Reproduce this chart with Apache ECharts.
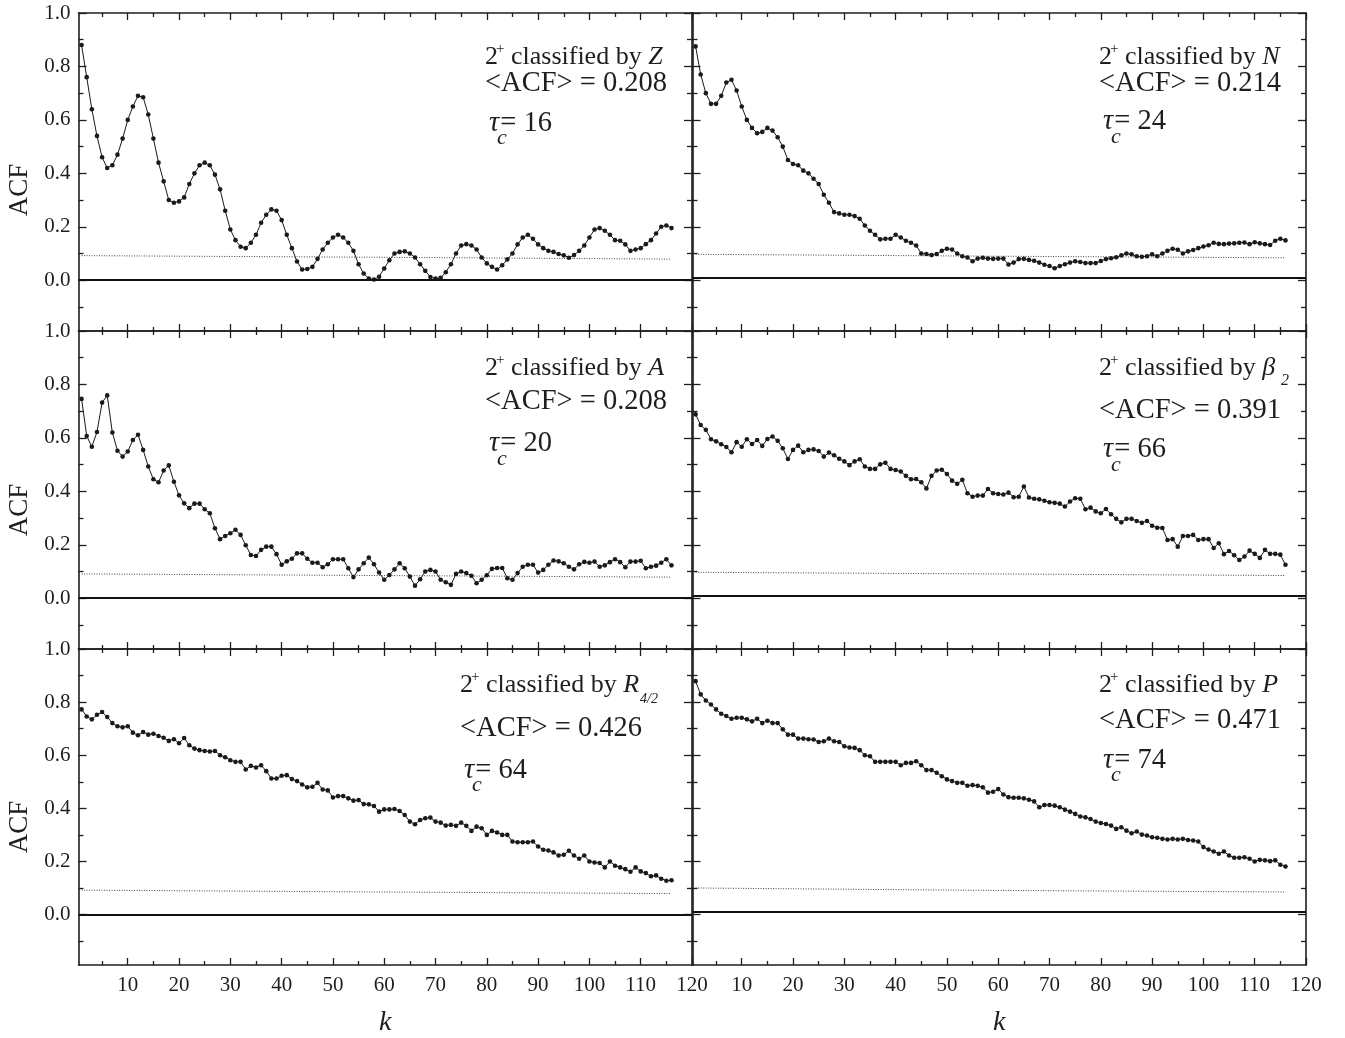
<!DOCTYPE html>
<html><head><meta charset="utf-8">
<script src="https://cdn.jsdelivr.net/npm/echarts@6/dist/echarts.min.js"></script>
<style>html,body{margin:0;padding:0;background:#fff}#c{width:1345px;height:1038px}</style>
</head><body><div id="c"></div>
<script>
// ---------- data ----------
const lags = Array.from({length:116},(_,i)=>i+1);
const acfZ = [0.88,0.76,0.64,0.54,0.46,0.42,0.43,0.47,0.53,0.60,
0.65,0.69,0.685,0.62,0.53,0.44,0.37,0.30,0.29,0.295,
0.31,0.36,0.40,0.43,0.44,0.43,0.395,0.34,0.26,0.19,
0.15,0.125,0.12,0.14,0.17,0.215,0.245,0.265,0.26,0.225,
0.17,0.12,0.07,0.04,0.042,0.05,0.08,0.115,0.14,0.16,
0.17,0.16,0.14,0.11,0.06,0.025,0.006,0.003,0.013,0.044,
0.075,0.10,0.106,0.108,0.10,0.085,0.06,0.035,0.012,0.006,
0.009,0.03,0.06,0.10,0.13,0.135,0.13,0.115,0.085,0.063,
0.05,0.04,0.056,0.078,0.10,0.134,0.16,0.17,0.155,0.134,
0.12,0.11,0.106,0.098,0.093,0.084,0.094,0.11,0.13,0.16,
0.19,0.195,0.185,0.17,0.15,0.148,0.134,0.11,0.115,0.12,
0.135,0.15,0.175,0.2,0.205,0.195];
const acfN = [0.875,0.77,0.70,0.66,0.66,0.69,0.74,0.75,0.71,0.65,
0.60,0.57,0.55,0.555,0.57,0.56,0.535,0.50,0.45,0.435,
0.43,0.41,0.40,0.38,0.36,0.32,0.29,0.255,0.25,0.245,
0.245,0.24,0.23,0.205,0.185,0.17,0.153,0.155,0.155,0.17,
0.16,0.148,0.14,0.13,0.10,0.098,0.094,0.098,0.11,0.118,
0.115,0.10,0.09,0.085,0.071,0.081,0.084,0.081,0.08,0.081,
0.081,0.059,0.066,0.079,0.080,0.076,0.073,0.066,0.058,0.053,
0.045,0.053,0.06,0.066,0.071,0.068,0.064,0.064,0.064,0.072,
0.079,0.082,0.086,0.093,0.10,0.097,0.09,0.088,0.09,0.097,
0.09,0.10,0.11,0.118,0.114,0.10,0.108,0.113,0.12,0.126,
0.131,0.14,0.136,0.135,0.137,0.138,0.14,0.141,0.135,0.142,
0.138,0.135,0.132,0.148,0.155,0.149];
const acfA = [0.746,0.607,0.567,0.622,0.732,0.759,0.62,0.552,0.53,0.549,
0.592,0.612,0.555,0.493,0.445,0.434,0.478,0.497,0.436,0.385,
0.355,0.337,0.354,0.354,0.333,0.318,0.262,0.221,0.233,0.243,
0.256,0.237,0.198,0.162,0.158,0.181,0.193,0.193,0.165,0.125,
0.138,0.148,0.168,0.168,0.148,0.133,0.133,0.116,0.127,0.146,
0.146,0.146,0.112,0.079,0.108,0.131,0.152,0.127,0.096,0.069,
0.087,0.108,0.131,0.112,0.081,0.047,0.071,0.10,0.106,0.10,
0.069,0.06,0.05,0.091,0.10,0.094,0.084,0.056,0.069,0.086,
0.11,0.113,0.113,0.075,0.069,0.094,0.118,0.125,0.125,0.096,
0.106,0.125,0.141,0.138,0.131,0.118,0.108,0.127,0.136,0.133,
0.137,0.118,0.123,0.135,0.146,0.135,0.116,0.137,0.137,0.14,
0.112,0.118,0.122,0.133,0.146,0.123];
const acfBeta = [0.688,0.648,0.63,0.595,0.587,0.576,0.566,0.546,0.584,0.567,
0.595,0.577,0.592,0.57,0.596,0.605,0.589,0.561,0.521,0.555,
0.571,0.546,0.555,0.557,0.551,0.53,0.545,0.535,0.522,0.512,
0.498,0.512,0.52,0.493,0.484,0.484,0.501,0.507,0.484,0.48,
0.474,0.458,0.445,0.446,0.434,0.411,0.458,0.478,0.481,0.465,
0.44,0.428,0.443,0.393,0.38,0.384,0.384,0.409,0.393,0.39,
0.388,0.395,0.378,0.38,0.418,0.377,0.372,0.37,0.365,0.359,
0.357,0.354,0.343,0.362,0.374,0.372,0.333,0.339,0.325,0.318,
0.334,0.314,0.297,0.284,0.297,0.297,0.289,0.282,0.289,0.271,
0.264,0.263,0.218,0.221,0.193,0.233,0.233,0.237,0.218,0.221,
0.221,0.188,0.206,0.165,0.177,0.161,0.143,0.156,0.178,0.166,
0.151,0.181,0.166,0.166,0.163,0.125];
const acfR = [0.7725,0.746,0.735,0.7525,0.7625,0.744,0.721,0.709,0.705,0.709,
0.685,0.675,0.6875,0.6775,0.681,0.6725,0.666,0.654,0.66,0.645,
0.665,0.6375,0.625,0.619,0.616,0.614,0.616,0.60,0.5925,0.581,
0.575,0.575,0.546,0.56,0.554,0.5625,0.54,0.5125,0.5125,0.5225,
0.525,0.51,0.5025,0.49,0.479,0.481,0.496,0.471,0.4675,0.441,
0.446,0.446,0.4375,0.429,0.431,0.416,0.415,0.409,0.3875,0.396,
0.396,0.3975,0.39,0.375,0.35,0.34,0.356,0.3625,0.365,0.35,
0.346,0.335,0.3375,0.334,0.346,0.334,0.315,0.331,0.325,0.30,
0.315,0.309,0.30,0.30,0.275,0.2725,0.2725,0.2725,0.275,0.256,
0.244,0.241,0.234,0.2225,0.225,0.24,0.2225,0.21,0.2225,0.20,
0.196,0.194,0.1775,0.20,0.184,0.1775,0.171,0.161,0.1775,0.1625,
0.156,0.144,0.1475,0.135,0.1275,0.129];
const acfP = [0.879,0.829,0.806,0.791,0.7725,0.756,0.7475,0.7375,0.741,0.741,
0.735,0.7275,0.7375,0.721,0.73,0.721,0.721,0.6975,0.6775,0.6775,
0.6625,0.6625,0.66,0.659,0.65,0.6525,0.6625,0.6525,0.65,0.634,
0.629,0.6275,0.619,0.60,0.596,0.575,0.575,0.575,0.575,0.575,
0.5625,0.571,0.571,0.5775,0.5625,0.544,0.544,0.534,0.521,0.509,
0.5025,0.496,0.496,0.485,0.4875,0.485,0.479,0.459,0.4625,0.4725,
0.452,0.442,0.44,0.44,0.4375,0.4325,0.426,0.404,0.4125,0.4125,
0.41,0.404,0.395,0.3875,0.379,0.369,0.366,0.36,0.35,0.345,
0.341,0.335,0.3225,0.329,0.316,0.306,0.3125,0.301,0.2975,0.291,
0.289,0.285,0.2825,0.285,0.2825,0.285,0.281,0.279,0.275,0.254,
0.245,0.2375,0.229,0.2375,0.2225,0.214,0.214,0.216,0.21,0.20,
0.206,0.204,0.201,0.204,0.1875,0.181];

// significance (dotted) line, read at k = 1, 58, 116
const threshLags = [1, 58, 116];
const threshZ = [0.092, 0.086, 0.079];
const threshN = [0.097, 0.090, 0.084];
const threshA = [0.091, 0.085, 0.079];
const threshBeta = [0.097, 0.091, 0.085];
const threshR = [0.092, 0.085, 0.079];
const threshP = [0.100, 0.091, 0.085];
// level of the heavy zero line
const zeroLevels = [0, 0.009, 0, 0.009, 0, 0.006];

// annotation texts
const varNames = ['Z','N','A','\u03B2','R','P'];
const varSubs = ['','','','2','4/2',''];
const meanAcf = ['0.208','0.214','0.208','0.391','0.426','0.471'];
const tauC = ['16','24','20','66','64','74'];

// ticks
const xMajor = [10,20,30,40,50,60,70,80,90,100,110,120];
const xMinor = [5,15,25,35,45,55,65,75,85,95,105,115];
const yMajor = [0,0.2,0.4,0.6,0.8,1.0];
const yMinor = [-0.1,0.1,0.3,0.5,0.7,0.9];

const series = [acfZ, acfN, acfA, acfBeta, acfR, acfP];
const thresholds = [threshZ, threshN, threshA, threshBeta, threshR, threshP];

// ---------- layout ----------
const FONT = '"Liberation Serif","Times New Roman",serif';
const INK = '#1e1e1e';
const colLeft = [78.5, 692.5];
const rowTop = [13, 331, 649];
const gW = 613.5, gH = 318;
const annoPos = [
  {x:485, b:[65.7, 93.3, 133]},
  {x:1099, b:[65.7, 93.3, 131.7]},
  {x:485, b:[376.7, 411.7, 453.3]},
  {x:1099, b:[376.7, 420, 459.3]},
  {x:460, b:[694, 738.3, 780]},
  {x:1099, b:[694, 730, 770]}
];

const grids = [], xAxes = [], yAxes = [], ser = [], graphics = [];
for (let g = 0; g < 6; g++) {
  const col = g % 2, row = Math.floor(g / 2);
  grids.push({left: colLeft[col], top: rowTop[row], width: gW, height: gH, containLabel:false});
  const lineSt = {color: INK, width: 1.6};
  const tickSt = {color: INK, width: 1.3};
  const bottomRow = row === 2;
  const mkX = (pos, vals, len, showLine, labels) => ({
    type:'value', gridIndex:g, position:pos, min:0.4, max:120,
    axisLine:{show:showLine, onZero:false, lineStyle:lineSt},
    axisTick:{show:true, inside:true, length:len, customValues:vals, lineStyle:tickSt},
    axisLabel: labels ? {show:true, customValues:xMajor, margin:10, fontFamily:FONT, fontSize:21, color:INK} : {show:false},
    splitLine:{show:false},
    name: labels ? 'k' : '', nameLocation:'middle', nameGap:44,
    nameTextStyle:{fontFamily:FONT, fontStyle:'italic', fontSize:28, color:INK}
  });
  xAxes.push(mkX('bottom', xMajor, 7, true, bottomRow));
  xAxes.push(mkX('top', xMajor, 7, true, false));
  xAxes.push(mkX('bottom', xMinor, 4, false, false));
  xAxes.push(mkX('top', xMinor, 4, false, false));
  const mkY = (pos, vals, len, showLine, labels) => ({
    type:'value', gridIndex:g, position:pos, min:-0.19, max:1.0,
    axisLine:{show:showLine, onZero:false, lineStyle:lineSt},
    axisTick:{show:true, inside:true, length:len, customValues:vals, lineStyle:tickSt},
    axisLabel: labels ? {show:true, customValues:yMajor, margin:8, fontFamily:FONT, fontSize:21, color:INK,
      formatter:(v)=>v.toFixed(1)} : {show:false},
    splitLine:{show:false}
  });
  yAxes.push(mkY('left', yMajor, 8, true, col === 0));
  yAxes.push(mkY('right', yMajor, 8, true, false));
  yAxes.push(mkY('left', yMinor, 5, false, false));
  yAxes.push(mkY('right', yMinor, 5, false, false));

  const ai = g * 4;
  ser.push({
    type:'line', xAxisIndex:ai, yAxisIndex:ai, silent:true, animation:false,
    data: thresholds[g].map((v,i)=>[threshLags[i], v]),
    symbol:'none', lineStyle:{color:'#444', width:1, type:[1,1.5]},
    markLine:{silent:true, symbol:'none', label:{show:false},
      lineStyle:{color:'#111', width:2.2, type:'solid'},
      data:[{yAxis: zeroLevels[g]}]}
  });
  ser.push({
    type:'line', xAxisIndex:ai, yAxisIndex:ai, silent:true, animation:false,
    data: lags.map((k,i)=>[k, series[g][i]]),
    symbol:'circle', symbolSize:4.6, showSymbol:true,
    itemStyle:{color:'#1a1a1a'}, lineStyle:{color:'#1a1a1a', width:1}
  });
}

// ---------- annotation text ----------
const cv = document.createElement('canvas').getContext('2d');
function tw(t, size, italic){ cv.font = (italic?'italic ':'') + size + 'px "Liberation Serif"'; return cv.measureText(t).width; }
function txt(t, x, base, size, italic){
  graphics.push({type:'text', x:x, y: base - 0.34*size, silent:true,
    style:{text:t, fontFamily:FONT, fontSize:size, fontStyle: italic?'italic':'normal', fill:INK, align:'left', verticalAlign:'middle'}});
}
const F1 = 26, F = 28.5;
for (let g = 0; g < 6; g++) {
  const p = annoPos[g];
  let x = p.x;
  txt('2', x, p.b[0], F1, false); x += tw('2', F1);
  txt('+', x - 2, p.b[0] - 12, 15, false); x += tw('+', 15) - 2;
  txt(' classified by ', x, p.b[0], F1, false); x += tw(' classified by ', F1);
  txt(varNames[g], x, p.b[0], F1, true); x += tw(varNames[g], F1, true);
  if (varSubs[g]) {
    const sz = varSubs[g].length > 1 ? 14 : 16;
    txt(varSubs[g], x + (varSubs[g].length > 1 ? 1 : 6), p.b[0] + 10, sz, true);
  }
  txt('<ACF> = ' + meanAcf[g], p.x, p.b[1], F, false);
  const tx = p.x + 4;
  txt('\u03C4', tx, p.b[2], F, true);
  txt('c', tx + 8, p.b[2] + 13, 22, true);
  txt('= ' + tauC[g], tx + tw('\u03C4', F, true) + 1, p.b[2], F, false);
}
// ACF axis titles
const acfCenters = [190, 510, 827];
for (const cy of acfCenters) {
  graphics.push({type:'text', x:20, y:cy, rotation:Math.PI/2, silent:true,
    style:{text:'ACF', fontFamily:FONT, fontSize:27, fill:INK, align:'center', verticalAlign:'middle'}});
}

const chart = echarts.init(document.getElementById('c'), null, {renderer:'canvas'});
chart.setOption({
  backgroundColor:'#fff', animation:false,
  grid:grids, xAxis:xAxes, yAxis:yAxes, series:ser, graphic:graphics
});
</script></body></html>
